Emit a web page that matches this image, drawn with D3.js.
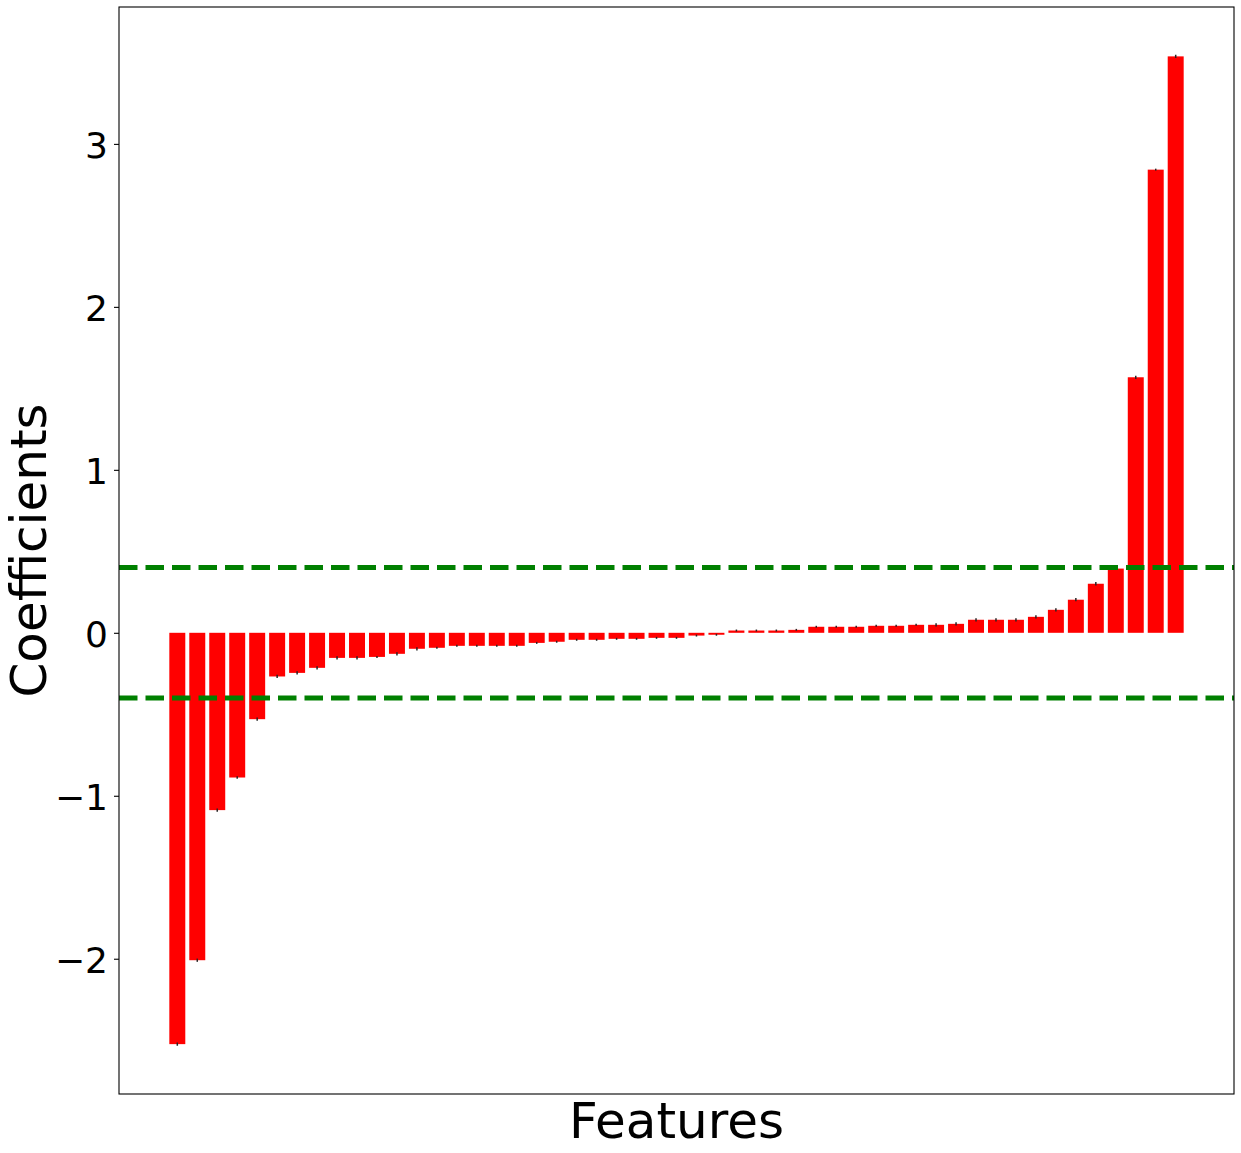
<!DOCTYPE html>
<html>
<head>
<meta charset="utf-8">
<script src="https://cdn.jsdelivr.net/npm/d3@7"></script>
<style>
  body { margin: 0; background: #fff; }
  text { font-family: "DejaVu Sans", sans-serif; }
</style>
</head>
<body>
<div id="chart"></div>
<script>
// coefficient per feature, sorted ascending
var features = d3.range(51).map(function(i) { return "f" + i; });
var coefficients = [
  -2.524, -2.009, -1.088, -0.888, -0.530, -0.268, -0.246, -0.215, -0.154, -0.154,
  -0.148, -0.129, -0.098, -0.092, -0.080, -0.080, -0.080, -0.080, -0.062, -0.055,
  -0.043, -0.043, -0.037, -0.037, -0.031, -0.031, -0.017, -0.012, 0.014, 0.014,
  0.014, 0.018, 0.037, 0.037, 0.037, 0.043, 0.043, 0.049, 0.049, 0.055,
  0.080, 0.080, 0.080, 0.098, 0.141, 0.203, 0.301, 0.394, 1.568, 2.842,
  3.537
];
var errors = [
  0.010, 0.010, 0.010, 0.008, 0.010, 0.010, 0.010, 0.010, 0.010, 0.010,
  0.006, 0.010, 0.010, 0.006, 0.006, 0.006, 0.006, 0.006, 0.006, 0.006,
  0.006, 0.006, 0.006, 0.006, 0.006, 0.006, 0.006, 0.006, 0.006, 0.006,
  0.006, 0.006, 0.006, 0.006, 0.006, 0.006, 0.006, 0.006, 0.010, 0.010,
  0.010, 0.010, 0.010, 0.010, 0.010, 0.010, 0.010, 0.006, 0.010, 0.006,
  0.010
];
var yTicks = [-2, -1, 0, 1, 2, 3];
var threshold = 0.4;

var W = 1241, H = 1153;
var plotL = 119, plotR = 1234, plotT = 7, plotB = 1094;

var svg = d3.select("#chart").append("svg")
  .attr("width", W)
  .attr("height", H);

var x = d3.scaleLinear().domain([-2.92, 52.92]).range([plotL, plotR]);
var y = d3.scaleLinear().domain([-2.83, 3.84]).range([plotB, plotT]);
var barW = x(0.8) - x(0);

// bars
svg.append("g")
  .selectAll("rect")
  .data(coefficients)
  .enter().append("rect")
  .attr("x", function(d, i) { return x(i) - barW / 2; })
  .attr("y", function(d) { return y(Math.max(0, d)); })
  .attr("width", barW)
  .attr("height", function(d) { return Math.abs(y(d) - y(0)); })
  .attr("fill", "#ff0000");

// error bars
svg.append("g")
  .selectAll("line")
  .data(coefficients)
  .enter().append("line")
  .attr("x1", function(d, i) { return x(i); })
  .attr("x2", function(d, i) { return x(i); })
  .attr("y1", function(d, i) { return y(d - errors[i]); })
  .attr("y2", function(d, i) { return y(d + errors[i]); })
  .attr("stroke", "#262626")
  .attr("stroke-width", 1.5);

// threshold lines
svg.append("g")
  .selectAll("line")
  .data([threshold, -threshold])
  .enter().append("line")
  .attr("x1", plotL)
  .attr("x2", plotR)
  .attr("y1", function(d) { return y(d); })
  .attr("y2", function(d) { return y(d); })
  .attr("stroke", "#008000")
  .attr("stroke-width", 5)
  .attr("stroke-dasharray", "18.5,8");

// y axis
var yAxis = d3.axisLeft(y)
  .tickValues(yTicks)
  .tickSize(5)
  .tickPadding(6)
  .tickFormat(function(d) { return d < 0 ? "\u2212" + Math.abs(d) : d; });

var gy = svg.append("g")
  .attr("transform", "translate(" + plotL + ",0)")
  .call(yAxis);
gy.select(".domain").remove();
gy.selectAll(".tick line").attr("stroke", "#000").attr("stroke-width", 1.1);
gy.selectAll(".tick text")
  .attr("font-family", "DejaVu Sans")
  .attr("font-size", 36)
  .attr("fill", "#000")
  .attr("dy", "0.38em");

// frame
svg.append("rect")
  .attr("x", plotL)
  .attr("y", plotT)
  .attr("width", plotR - plotL)
  .attr("height", plotB - plotT)
  .attr("fill", "none")
  .attr("stroke", "#000")
  .attr("stroke-width", 1.1);

// axis titles
svg.append("text")
  .attr("x", (plotL + plotR) / 2)
  .attr("y", 1138)
  .attr("text-anchor", "middle")
  .attr("font-size", 50)
  .attr("fill", "#000")
  .text("Features");

svg.append("text")
  .attr("transform", "translate(46," + (plotT + plotB) / 2 + ") rotate(-90)")
  .attr("text-anchor", "middle")
  .attr("font-size", 50)
  .attr("fill", "#000")
  .text("Coefficients");
</script>
</body>
</html>
